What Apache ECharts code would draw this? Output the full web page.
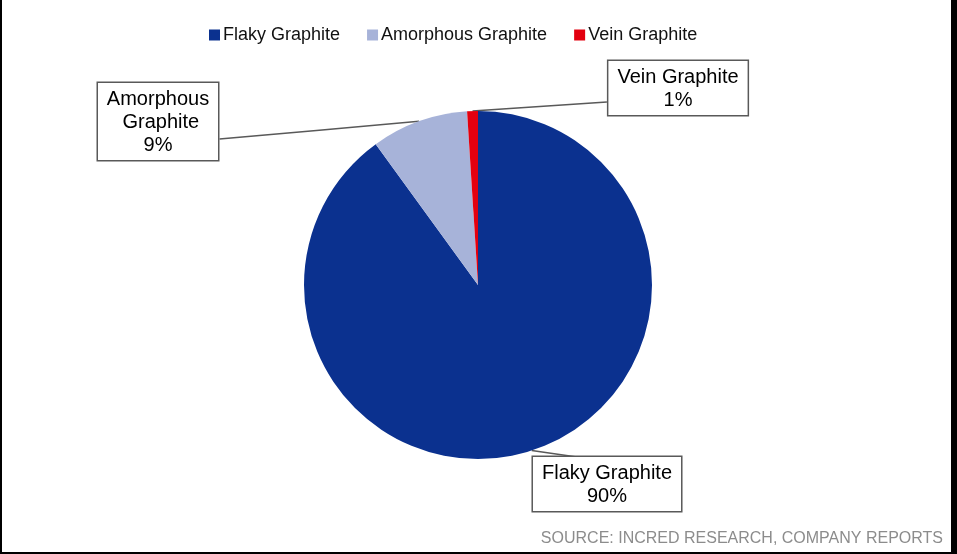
<!DOCTYPE html>
<html>
<head>
<meta charset="utf-8">
<script src="https://cdn.jsdelivr.net/npm/echarts@6/dist/echarts.min.js"></script>
<style>
  html, body { margin: 0; padding: 0; background: #000; }
  body { width: 957px; height: 554px; position: relative; overflow: hidden; }
  #chart { position: absolute; left: 2px; top: 0; width: 949px; height: 552px; background: #fff; }
</style>
</head>
<body>
<div id="chart"></div>
<script>
// Graphite types and their share
const categories = ['Flaky Graphite', 'Amorphous Graphite', 'Vein Graphite'];
const shares = [90, 9, 1];
const colors = ['#0b318f', '#a7b3d9', '#e3000f'];
const sourceNote = 'SOURCE: INCRED RESEARCH, COMPANY REPORTS';

// Callout box placement (box centre x, box top y) and where the leader meets the box
const calloutBoxes = [
  { cx: 605, top: 457, side: 'top', t: 0.3 },
  { cx: 156, top: 83, side: 'right', t: 0.7 },
  { cx: 676, top: 61, side: 'left', t: 0.72 }
];

const chart = echarts.init(document.getElementById('chart'), null, { renderer: 'canvas' });

const data = categories.map((name, i) => {
  const item = { name: name, value: shares[i], itemStyle: { color: colors[i] } };
  // the long name wraps onto two lines in its callout
  if (i === 1) item.label = { width: 104, overflow: 'break', padding: [5, 8, 3, 8] };
  return item;
});

chart.setOption({
  animation: false,
  textStyle: { fontFamily: 'Liberation Sans, Arial, sans-serif' },
  title: {
    text: sourceNote,
    right: 8,
    bottom: 5,
    padding: 0,
    textStyle: { fontSize: 16, fontWeight: 'normal', color: '#8c8c8c', fontFamily: 'Liberation Sans, Arial, sans-serif' }
  },
  legend: {
    left: 202,
    top: 21,
    icon: 'rect',
    itemWidth: 11,
    itemHeight: 11,
    itemGap: 27,
    textStyle: { fontSize: 18, color: '#111', fontFamily: 'Liberation Sans, Arial, sans-serif', padding: [0, 0, 0, -2] },
    data: categories
  },
  series: [{
    type: 'pie',
    center: [476, 285],
    radius: [0, 174],
    startAngle: 90,
    clockwise: true,
    avoidLabelOverlap: false,
    silent: true,
    data: data,
    label: {
      show: true,
      position: 'outside',
      formatter: '{b}\n{d}%',
      fontSize: 20,
      lineHeight: 23,
      color: '#000',
      align: 'center',
      fontFamily: 'Liberation Sans, Arial, sans-serif',
      backgroundColor: '#fff',
      borderColor: '#595959',
      borderWidth: 1.5,
      padding: [5, 9, 3, 9]
    },
    labelLine: {
      show: true,
      length: 10,
      length2: 10,
      lineStyle: { color: '#595959', width: 1.5 }
    },
    labelLayout: function (params) {
      const box = calloutBoxes[params.dataIndex];
      const w = params.labelRect.width;
      const h = params.labelRect.height;
      const left = box.cx - w / 2;
      let end;
      if (box.side === 'right') end = [left + w, box.top + h * box.t];
      else if (box.side === 'left') end = [left, box.top + h * box.t];
      else end = [left + w * box.t, box.top];
      const tip = params.labelLinePoints ? params.labelLinePoints[0] : end;
      return {
        x: box.cx,
        y: box.top,
        align: 'center',
        verticalAlign: 'top',
        labelLinePoints: [tip, [(tip[0] + end[0]) / 2, (tip[1] + end[1]) / 2], end]
      };
    }
  }]
});
</script>
</body>
</html>
